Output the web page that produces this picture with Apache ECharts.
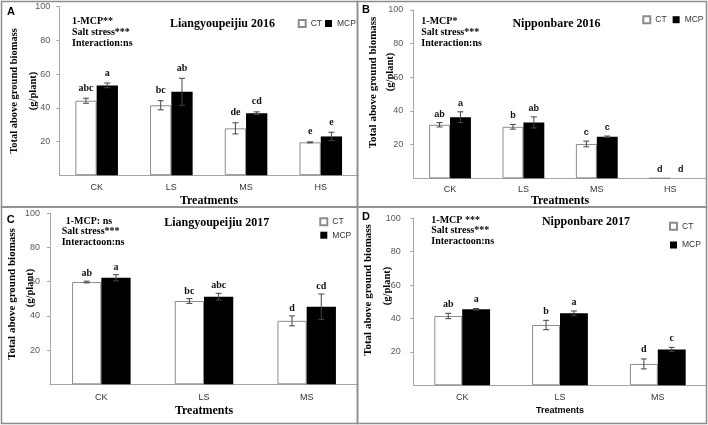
<!DOCTYPE html>
<html><head><meta charset="utf-8">
<script src="https://cdn.jsdelivr.net/npm/echarts@6/dist/echarts.min.js"></script>
<style>html,body{margin:0;padding:0;background:#fff}#c{width:708px;height:425px}</style>
</head><body><div id="c"></div>
<script>
// ---------- data ----------
var catsA = ['CK', 'LS', 'MS', 'HS'];
var catsB = ['CK', 'LS', 'MS', 'HS'];
var catsC = ['CK', 'LS', 'MS'];
var catsD = ['CK', 'LS', 'MS'];

var ctA = [44.2, 41.5, 27.8, 19.5];
var ctErrA = [1.5, 2.7, 3.3, 0.3];
var mcpA = [53.3, 49.5, 36.8, 23.0];
var mcpErrA = [1.4, 8.0, 0.8, 2.5];
var ctSigA = ['abc', 'bc', 'de', 'e'];
var mcpSigA = ['a', 'ab', 'cd', 'e'];

var ctB = [31.8, 30.6, 20.4, 0];
var ctErrB = [1.3, 1.4, 1.7, 0];
var mcpB = [36.3, 33.2, 24.7, 0];
var mcpErrB = [3.2, 3.3, 0.4, 0];
var ctSigB = ['ab', 'b', 'c', 'd'];
var mcpSigB = ['a', 'ab', 'c', 'd'];

var ctC = [59.8, 48.7, 37.1];
var ctErrC = [0.5, 1.4, 2.9];
var mcpC = [62.3, 51.2, 45.4];
var mcpErrC = [1.8, 2.0, 7.4];
var ctSigC = ['ab', 'bc', 'd'];
var mcpSigC = ['a', 'abc', 'cd'];

var ctD = [41.5, 36.1, 12.8];
var ctErrD = [1.6, 2.8, 3.0];
var mcpD = [45.5, 43.1, 21.5];
var mcpErrD = [0.5, 1.4, 1.2];
var ctSigD = ['ab', 'b', 'd'];
var mcpSigD = ['a', 'a', 'c'];

var yMin = 0, yMax = 100, yStep = 20;
var seriesNames = ['CT', 'MCP'];
var titles = ['Liangyoupeijiu 2016', 'Nipponbare 2016', 'Liangyoupeijiu 2017', 'Nipponbare 2017'];
var panelLetters = ['A', 'B', 'C', 'D'];
var statsA = ['1-MCP**', 'Salt stress***', 'Interaction:ns'];
var statsB = ['1-MCP*', 'Salt stress***', 'Interaction:ns'];
var statsC = ['1-MCP: ns', 'Salt stress***', 'Interactoon:ns'];
var statsD = ['1-MCP ***', 'Salt stress***', 'Interactoon:ns'];
var yName1 = 'Total above ground biomass';
var yName2 = '(g/plant)';
var xName = 'Treatments';

// ---------- layout / style ----------
var SERIF = '"Liberation Serif", "Times New Roman", serif';
var SANS = '"Liberation Sans", Arial, sans-serif';
var NARROW = '"Liberation Sans Narrow", "Liberation Sans", Arial, sans-serif';
var GAP = 0.43;

var panels = [
  {cats: catsA, ct: ctA, ctE: ctErrA, mcp: mcpA, mcpE: mcpErrA, ctS: ctSigA, mcpS: mcpSigA,
   grid: {left: 59.3, top: 6.7, width: 298.8, height: 168.5}, lblMargin: 9, xMargin: 8,
   sigGap: 5, sigFont: 'bold 10px ' + SERIF},
  {cats: catsB, ct: ctB, ctE: ctErrB, mcp: mcpB, mcpE: mcpErrB, ctS: ctSigB, mcpS: mcpSigB,
   grid: {left: 413.3, top: 10, width: 293.6, height: 168.3}, lblMargin: 10, xMargin: 7,
   sigGap: 4, sigFont: 'bold 9px ' + SANS},
  {cats: catsC, ct: ctC, ctE: ctErrC, mcp: mcpC, mcpE: mcpErrC, ctS: ctSigC, mcpS: mcpSigC,
   grid: {left: 50, top: 213.3, width: 308, height: 171}, lblMargin: 10, xMargin: 9,
   sigGap: 2.5, sigFont: 'bold 10px ' + SERIF},
  {cats: catsD, ct: ctD, ctE: ctErrD, mcp: mcpD, mcpE: mcpErrD, ctS: ctSigD, mcpS: mcpSigD,
   grid: {left: 413.3, top: 218.3, width: 293.4, height: 167}, lblMargin: 12.5, xMargin: 8,
   sigGap: 4, sigFont: 'bold 10px ' + SERIF}
];

function errSeries(gi, side, name, vals, errs, sigs, p) {
  return {
    type: 'custom', name: name + ' err', xAxisIndex: gi, yAxisIndex: gi, z: 10, silent: true,
    data: vals.map(function (v, i) { return [i, v, errs[i]]; }),
    renderItem: function (params, api) {
      var i = api.value(0), v = api.value(1), e = api.value(2);
      var band = api.size([1, 0])[0];
      var bw = band * (1 - GAP) / 2;
      var cx = api.coord([i, 0])[0] + side * bw / 2;
      var yt = api.coord([i, v + e])[1], yb = api.coord([i, v - e])[1];
      var st = {stroke: '#444', lineWidth: 1};
      var ch = [];
      if (e > 0) {
        ch.push({type: 'line', shape: {x1: cx, y1: yt, x2: cx, y2: yb}, style: st});
        ch.push({type: 'line', shape: {x1: cx - 3, y1: yt, x2: cx + 3, y2: yt}, style: st});
        ch.push({type: 'line', shape: {x1: cx - 3, y1: yb, x2: cx + 3, y2: yb}, style: st});
      }
      ch.push({type: 'text', x: cx, y: yt - p.sigGap,
        style: {text: sigs[params.dataIndex], font: p.sigFont, fill: '#111',
          textAlign: 'center', textVerticalAlign: 'bottom', align: 'center', verticalAlign: 'bottom'}});
      return {type: 'group', children: ch};
    }
  };
}

var grids = [], xAxes = [], yAxes = [], series = [];
panels.forEach(function (p, gi) {
  grids.push(p.grid);
  xAxes.push({type: 'category', gridIndex: gi, data: p.cats,
    axisLine: {lineStyle: {color: '#a6a6a6', width: 1}}, axisTick: {show: false},
    axisLabel: {fontSize: 9, color: '#333', fontFamily: NARROW, margin: p.xMargin}});
  yAxes.push({type: 'value', gridIndex: gi, min: yMin, max: yMax, interval: yStep,
    axisLine: {show: true, lineStyle: {color: '#a6a6a6', width: 1}},
    axisTick: {show: true, inside: false, length: 3, lineStyle: {color: '#a6a6a6'}},
    splitLine: {show: false},
    axisLabel: {fontSize: 9, color: '#595959', fontFamily: NARROW, margin: p.lblMargin, showMinLabel: false}});
  series.push({type: 'bar', name: 'CT', xAxisIndex: gi, yAxisIndex: gi, data: p.ct,
    barGap: '0%', barCategoryGap: (GAP * 100) + '%',
    itemStyle: {color: '#ffffff', borderColor: '#8c8c8c', borderWidth: 1}});
  series.push({type: 'bar', name: 'MCP', xAxisIndex: gi, yAxisIndex: gi, data: p.mcp,
    barGap: '0%', barCategoryGap: (GAP * 100) + '%',
    itemStyle: {color: '#000000'}});
  series.push(errSeries(gi, -1, 'CT', p.ct, p.ctE, p.ctS, p));
  series.push(errSeries(gi, 1, 'MCP', p.mcp, p.mcpE, p.mcpS, p));
});

var legTxt = {fontSize: 8.5, color: '#333', fontFamily: SANS, lineHeight: 10};
var legendBase = {data: seriesNames, icon: 'rect', itemWidth: 7, itemHeight: 7, padding: 0,
  textStyle: legTxt, selectedMode: false};
var legends = [
  Object.assign({}, legendBase, {left: 297.7, top: 18.5, orient: 'horizontal', itemGap: 3}),
  Object.assign({}, legendBase, {left: 642.3, top: 14.7, orient: 'horizontal', itemGap: 6}),
  Object.assign({}, legendBase, {left: 319.3, top: 216.8, orient: 'vertical', itemGap: 3.4}),
  Object.assign({}, legendBase, {left: 669, top: 221.2, orient: 'vertical', itemGap: 8.8})
];

// ---------- text / frame graphics ----------
function txt(x, y, s, font, align, rot) {
  return {type: 'text', x: x, y: y, rotation: rot || 0, silent: true,
    style: {text: s, font: font, fill: '#000', textAlign: align || 'left', textVerticalAlign: 'middle',
      align: align || 'left', verticalAlign: 'middle'}};
}
var g = [];
[[1.5, 1.5, 356, 205.5], [357.5, 1.5, 349, 205.5], [1.5, 207, 356, 216.5], [357.5, 207, 349, 216.5]]
  .forEach(function (r) {
    g.push({type: 'rect', shape: {x: r[0], y: r[1], width: r[2], height: r[3]}, silent: true,
      style: {fill: 'none', stroke: '#8c8c8c', lineWidth: 1.5}, z: 100});
  });
var letterPos = [[11, 11.7], [366, 9.5], [10.7, 220], [366, 216.7]];
var titlePos = [[222.5, 23.7], [556.5, 24.2], [216.7, 223], [586, 221.5]];
var statX = [[72, 72, 72], [421.3, 421.3, 421.3], [65.7, 61.7, 61.7], [431.3, 431.3, 431.3]];
var statY = [[21, 32, 43], [21.7, 32.7, 43.3], [221, 231.7, 242.3], [220, 230.7, 241.7]];
var stats = [statsA, statsB, statsC, statsD];
var yN1 = [[14, 91, 10.5], [373, 82.5, 11], [11.7, 294, 11], [368, 290, 11]];
var yN2 = [[33, 91], [390.5, 72], [30.5, 288], [387.3, 286]];
var xN = [[209, 200.5, 'bold 12px ' + SERIF], [560, 200.7, 'bold 12px ' + SERIF],
          [204, 410.8, 'bold 12px ' + SERIF], [560, 410.3, 'bold 9px ' + SANS]];
for (var k = 0; k < 4; k++) {
  g.push(txt(letterPos[k][0], letterPos[k][1], panelLetters[k], 'bold 11px ' + SANS, 'center'));
  g.push(txt(titlePos[k][0], titlePos[k][1], titles[k], 'bold 12px ' + SERIF, 'center'));
  for (var j = 0; j < 3; j++) g.push(txt(statX[k][j], statY[k][j], stats[k][j], 'bold 10px ' + SERIF, 'left'));
  g.push(txt(yN1[k][0], yN1[k][1], yName1, 'bold ' + yN1[k][2] + 'px ' + SERIF, 'center', Math.PI / 2));
  g.push(txt(yN2[k][0], yN2[k][1], yName2, 'bold 10.5px ' + SERIF, 'center', Math.PI / 2));
  g.push(txt(xN[k][0], xN[k][1], xName, xN[k][2], 'center'));
}

var chart = echarts.init(document.getElementById('c'), null, {renderer: 'canvas'});
chart.setOption({
  animation: false,
  backgroundColor: '#ffffff',
  grid: grids, xAxis: xAxes, yAxis: yAxes, series: series,
  legend: legends, graphic: {elements: g}
});
</script></body></html>
